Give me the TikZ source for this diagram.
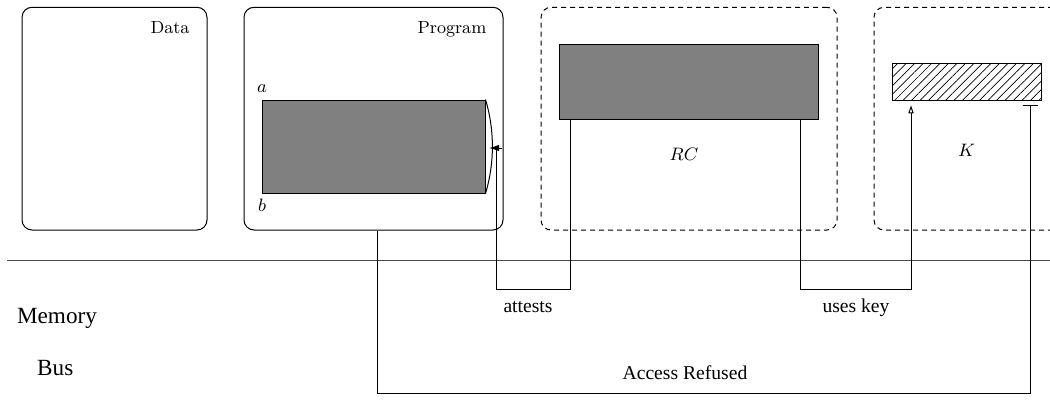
\documentclass[tikz,border=0pt]{standalone}
\usepackage{fontspec}
\newfontfamily\timesfont{Liberation Serif}
\usetikzlibrary{arrows.meta,patterns.meta,fit}

\begin{document}
\begin{tikzpicture}[x=0.5pt,y=-0.5pt,line width=0.5pt,
  panel/.style={draw,rounded corners=5pt,inner sep=0pt},
  zone/.style={draw,rounded corners=5pt,inner sep=0pt,dash pattern=on 2.5pt off 2pt},
  block/.style={draw,fill=black!50,inner sep=0pt},
  keyblock/.style={draw,pattern={Lines[angle=45,distance=3pt,line width=0.35pt]},inner sep=0pt},
  cmlabel/.style={anchor=base,inner sep=0pt,font=\fontsize{8.8}{10}\selectfont},
  txlabel/.style={anchor=base,inner sep=0pt,font=\timesfont\fontsize{9.8}{11}\selectfont},
  buslabel/.style={anchor=base,inner sep=0pt,font=\timesfont\fontsize{11.6}{13}\selectfont}]
\useasboundingbox (0,0) rectangle (1050,418);

% outer panels
\node[panel,fit={(22,7.3) (207,230)}] (data) {};
\node[panel,fit={(244,7.3) (503,230)}] (prog) {};
\node[zone,fit={(541,7.3) (837,230)}] (rc) {};
\node[zone,fit={(874,7.3) (1090,230)}] (kz) {};

% inner blocks
\node[block,fit={(262,100) (485,193)}] (pg) {};
\node[block,fit={(559,44.5) (818,119.5)}] (rcg) {};
\node[keyblock,fit={(892,63.3) (1041,100)}] (key) {};

% labels
\node[cmlabel] (ldata) at (170,33.3) {Data};
\node[cmlabel] (lprog) at (452,33.3) {Program};
\node[cmlabel] (la) at (262,92.7) {$a$};
\node[cmlabel] (lb) at (262,211.7) {$b$};
\node[cmlabel] (lrc) at (684,160) {$RC$};
\node[cmlabel] (lk) at (966.7,156) {$K$};
\node[txlabel] (latt) at (528,312.5) {attests};
\node[txlabel] (luse) at (856,312.5) {uses key};
\node[txlabel] (lacc) at (685,379.3) {Access Refused};
\node[buslabel] (lmem) at (57,323.3) {Memory};
\node[buslabel] (lbus) at (55.3,375) {Bus};

% bus boundary
\draw[black!70] (7,260.5) -- (1050,260.5);

% bracket on the program block
\draw (pg.north east) .. controls (494.7,130) and (494.7,163) .. (pg.south east);

% routing coordinates
\coordinate (lo) at (0,289.3);
\coordinate (xa) at (570,0);
\coordinate (xb) at (496,148);
\coordinate (arcpt) at (489,148);
\coordinate (xu) at (800,0);
\coordinate (xk) at (911,0);
\coordinate (xacc) at (377,0);
\coordinate (xbar) at (1030,0);
\coordinate (accy) at (0,393.3);

% attests
\draw (rcg.south -| xa) -- (xa |- lo) -- (xb |- lo) -- (xb);
\draw[-{Latex[length=5pt,width=3.2pt]}] ([xshift=3pt]xb) -- (arcpt);
% uses key
\draw[-{Triangle[open,length=4pt,width=2.6pt]},shorten >=2.5pt] (rcg.south -| xu) -- (xu |- lo) -- (xk |- lo) -- (key.south -| xk);
% access refused
\draw[-{Bar[width=7.5pt]},shorten >=2.5pt] (prog.south -| xacc) -- (xacc |- accy) -- (xbar |- accy) -- (key.south -| xbar);
\end{tikzpicture}
\end{document}
